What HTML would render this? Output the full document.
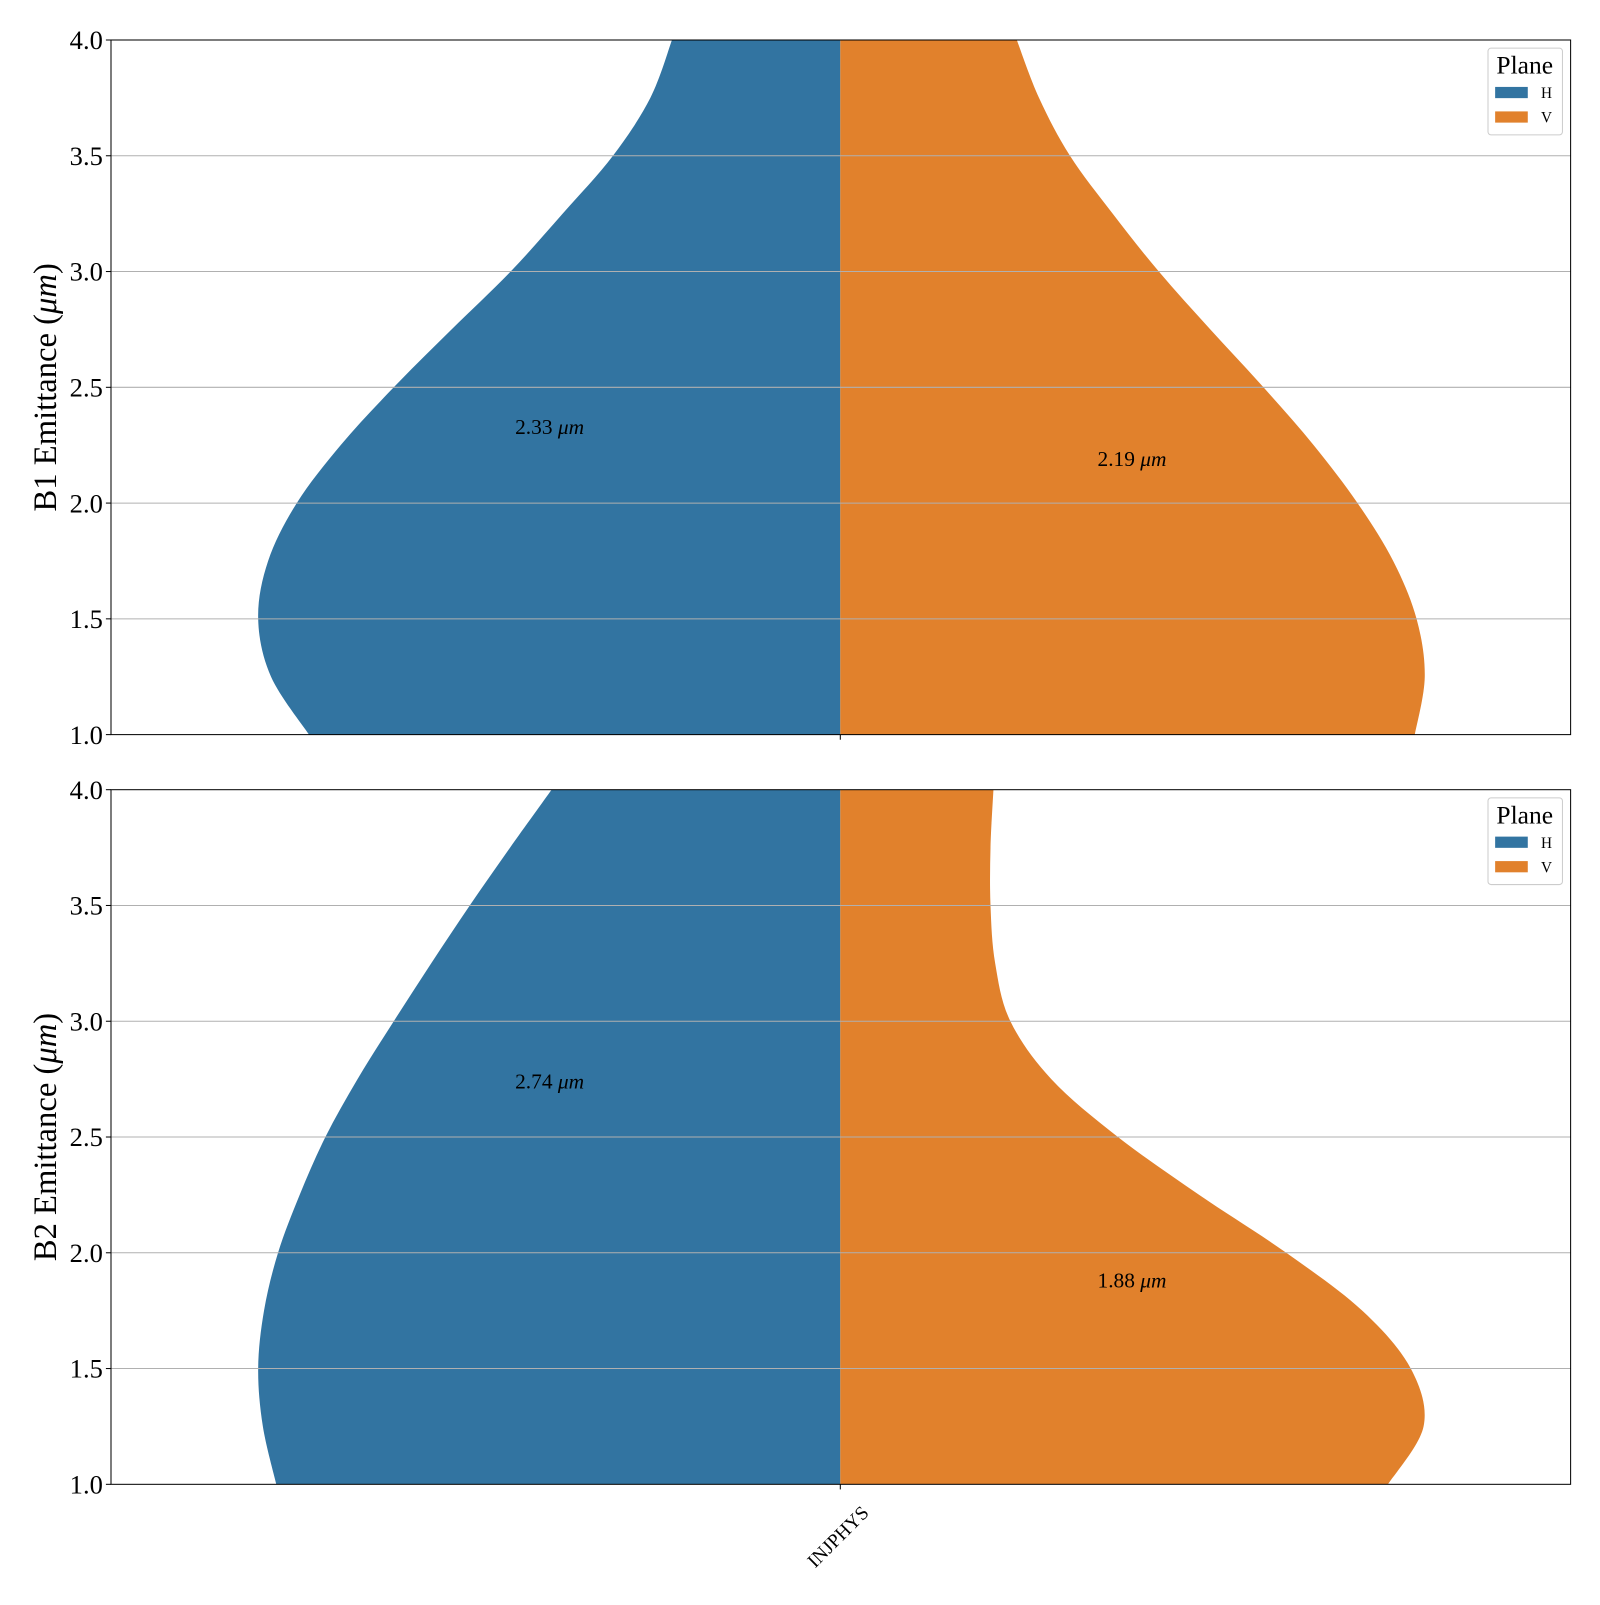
<!DOCTYPE html>
<html><head><meta charset="utf-8"><style>
body{margin:0;background:#fff}
svg text{font-family:"Liberation Serif",serif;fill:#000}
</style></head><body>
<svg width="1600" height="1600" xmlns="http://www.w3.org/2000/svg"><g id="chart" transform="translate(0.84,0.22) scale(1.02)"></g></svg>
<script>
const yTicks=[1.0,1.5,2.0,2.5,3.0,3.5,4.0];
const gridY=[1.0,1.25,1.5,1.75,2.0,2.25,2.5,2.75,3.0,3.25,3.5,3.75,4.0];
const b1H=[0.909,0.974,0.996,0.979,0.930,0.855,0.764,0.665,0.564,0.475,0.389,0.325,0.288];
const b1V=[0.983,1.0,0.986,0.946,0.885,0.810,0.724,0.633,0.545,0.466,0.393,0.340,0.302];
const b2H=[0.965,0.988,0.996,0.986,0.962,0.925,0.881,0.826,0.764,0.700,0.634,0.565,0.494];
const b2V=[0.937,0.998,0.976,0.893,0.763,0.614,0.475,0.361,0.291,0.265,0.257,0.257,0.262];
const medians=[[2.33,2.19],[2.74,1.88]];
const panelNames=["B1","B2"];
const svg=document.getElementById('chart');
const NS='http://www.w3.org/2000/svg';
function mk(t,a,p){const e=document.createElementNS(NS,t);for(const k in a)e.setAttribute(k,a[k]);(p||svg).appendChild(e);return e;}
const X0=108,X1=1539,CX=823,W=573;
const tops=[39,774],H=681;
function curvePath(vals,sign,ys){
  const pts=gridY.map((v,i)=>[CX+sign*vals[i]*W,ys(v)]);
  let d=`M${CX},${ys(1)} L${pts[0][0]},${pts[0][1]}`;
  for(let i=0;i<pts.length-1;i++){
    const p0=pts[Math.max(0,i-1)],p1=pts[i],p2=pts[i+1],p3=pts[Math.min(pts.length-1,i+2)];
    const c1=[p1[0]+(p2[0]-p0[0])/6,p1[1]+(p2[1]-p0[1])/6];
    const c2=[p2[0]-(p3[0]-p1[0])/6,p2[1]-(p3[1]-p1[1])/6];
    d+=` C${c1[0]},${c1[1]} ${c2[0]},${c2[1]} ${p2[0]},${p2[1]}`;
  }
  return d+` L${CX},${ys(4)} Z`;
}
const series=[[b1H,b1V],[b2H,b2V]];
for(let p=0;p<2;p++){
  const T=tops[p],ys=v=>T+H-(v-1)/3*H;
  const g=mk('g',{});
  
  
  const cp=mk('clipPath',{id:'c'+p},g);mk('rect',{x:X0,y:T,width:X1-X0,height:H},cp);
  const vh=mk('path',{d:curvePath(series[p][0],-1,ys),fill:'#3274a1','clip-path':`url(#c${p})`},g);
  
  const vv=mk('path',{d:curvePath(series[p][1],1,ys),fill:'#e1812c','clip-path':`url(#c${p})`},g);
  
  yTicks.forEach(t=>{
    const y=ys(t);
    if(t>1&&t<4){const gl=mk('line',{x1:X0,x2:X1,y1:y,y2:y,stroke:'#b0b0b0','stroke-width':1},g);
      }
    mk('line',{x1:X0-5,x2:X0,y1:y,y2:y,stroke:'#000'},g);
    const tl=mk('text',{x:X0-8,y:y+9,'text-anchor':'end','font-size':26},g);tl.textContent=t.toFixed(1);
    
  });
  mk('rect',{x:X0,y:T,width:X1-X0,height:H,fill:'none',stroke:'#000','stroke-width':1},g);
  mk('line',{x1:CX,x2:CX,y1:T+H,y2:T+H+5,stroke:'#000'},g);
  const yl=mk('text',{x:54,y:T+H/2,'text-anchor':'middle','font-size':32,transform:`rotate(-90 54 ${T+H/2})`},g);
  yl.innerHTML=`${panelNames[p]} Emittance (<tspan font-style="italic">μm</tspan>)`;
  
  [[538,0],[1109,1]].forEach(([x,i])=>{
    const m=medians[p][i];
    const a=mk('text',{x:x,y:ys(m)+7,'text-anchor':'middle','font-size':21},g);
    a.innerHTML=`${m.toFixed(2)} <tspan font-style="italic">μm</tspan>`;
    
  });
  const lg=mk('g',{},g);
  
  mk('rect',{x:1458,y:T+8,width:73,height:85,rx:3,fill:'#fff',stroke:'#ccc'},lg);
  const lt=mk('text',{x:1494,y:T+33,'text-anchor':'middle','font-size':25},lg);lt.textContent='Plane';
  [['H','#3274a1',0],['V','#e1812c',1]].forEach(([n,c,i])=>{
    const e=mk('g',{},lg);
    
    mk('rect',{x:1465,y:T+46+i*24,width:32,height:11,fill:c},e);
    const t=mk('text',{x:1510,y:T+57+i*24,'font-size':15},e);t.textContent=n;
  });
}
const xl=mk('text',{x:852,y:1484,'text-anchor':'end','font-size':19,transform:'rotate(-45 852 1484)'});
xl.textContent='INJPHYS';

</script>
</body></html>
